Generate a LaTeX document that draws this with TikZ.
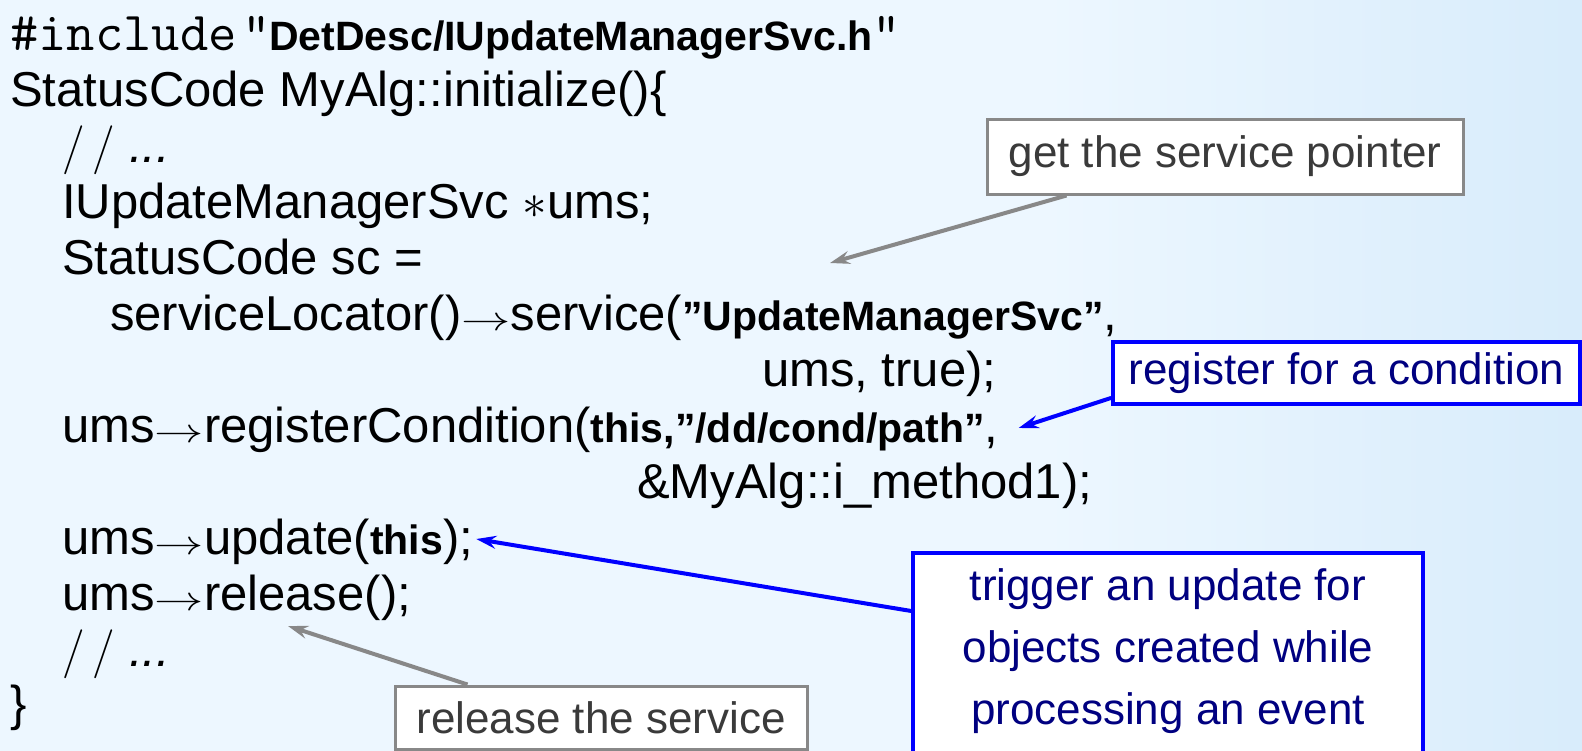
\RequirePackage{fix-cm}
\documentclass[tikz,border=0pt]{standalone}
\usepackage{graphicx}
\usepackage{fontspec}
\setmainfont{Liberation Sans}
\setsansfont{Liberation Sans}
\usetikzlibrary{arrows.meta,calc}
\definecolor{bgl}{RGB}{237,247,255}
\definecolor{bgr}{RGB}{216,236,251}
\definecolor{boxgray}{RGB}{136,136,136}
\definecolor{txtgray}{RGB}{58,58,58}
\definecolor{navyt}{RGB}{0,0,128}
\definecolor{bluel}{RGB}{0,0,255}
\pgfdeclarehorizontalshading{bgsh}{100bp}{color(0bp)=(bgl); color(25bp)=(bgl); color(58bp)=(bgl); color(75bp)=(bgr); color(100bp)=(bgr)}
\newcommand\codefont{\fontsize{49}{55}\selectfont}
\newcommand\bsm[1]{{\fontsize{41}{41}\selectfont\bfseries #1}}
\newcommand\arr{{\fontsize{34}{34}\selectfont\scalebox{1.45}[1]{$\rightarrow$}}}
\newcommand\cmt{{$/\mkern3mu/$}\hspace{14pt}\textit{...}}
\newcommand\qd{{\fontsize{55}{55}\selectfont\ttfamily\char34}}
\newcommand\calfont{\fontsize{44}{62}\selectfont}
\begin{document}
\begin{tikzpicture}[x=1pt,y=1pt,
  code/.style={anchor=base west, inner sep=0pt, font=\codefont},
  graybox/.style={draw=boxgray, line width=3pt, fill=white, text=txtgray, font=\calfont, inner sep=0pt},
  bluebox/.style={draw=bluel, line width=3.5pt, fill=white, text=navyt, font=\calfont, inner sep=0pt},
  grayarrow/.style={draw=boxgray, line width=4pt, -{Stealth[length=20pt,width=13pt,inset=7pt]}},
  bluearrow/.style={draw=bluel, line width=4pt, -{Stealth[length=20pt,width=13pt,inset=7pt]}}]
\useasboundingbox (0,0) rectangle (1582,-750);
\shade[shading=bgsh] (0,0) rectangle (1582,-750);
% code lines
\node[code] (l1) at (10,-50) {{\fontsize{55}{55}\selectfont\texttt{\#include}}\hspace{6pt}\qd\kern-2pt\bsm{DetDesc/IUpdateManagerSvc.h}\qd};
\node[code] (l2) at (10,-106) {StatusCode MyAlg::initialize()\{};
\node[code] (l3) at (62,-162) {\cmt};
\node[code] (l4) at (62,-218) {IUpdateManagerSvc $\ast$ums;};
\node[code] (l5) at (62,-274) {StatusCode sc =};
\node[code] (l6) at (110,-330) {serviceLocator()\arr service(\bsm{”UpdateManagerSvc”},};
\node[code] (l7) at (762,-386) {ums, true);};
\node[code] (l8) at (62,-442) {ums\arr registerCondition(\bsm{this,”/dd/cond/path”},};
\node[code] (l9) at (637,-498) {\&MyAlg::i\_method1);};
\node[code] (l10) at (62,-554) {ums\arr update(\bsm{this});};
\node[code] (l11) at (62,-610) {ums\arr release();};
\node[code] (l12) at (62,-666) {\cmt};
\node[code] (l13) at (10,-720) {\}};
% callouts
\node[graybox, minimum width=476pt, minimum height=75pt] (gbox) at (1225,-156.5) {get the service pointer};
\node[bluebox, minimum width=467pt, minimum height=62pt] (rbox) at (1346.5,-373) {register for a condition};
\node[bluebox, minimum width=510pt, minimum height=219pt, align=center, anchor=north] (tbox) at (1168,-551)
  {\rule{0pt}{48pt}trigger an update for\\objects created while\\processing an event\rule[-110pt]{0pt}{1pt}};
\node[graybox, minimum width=412pt, minimum height=63pt] (relbox) at (601,-717.5) {release the service};
% targets
\coordinate (t1) at (830,-263);
\coordinate (t2) at ($(l8.base east)+(20,14)$);
\coordinate (t3) at ($(l10.base east)+(3,15)$);
\coordinate (t4) at (288,-626);
% arrows
\draw[grayarrow] ([xshift=81pt]gbox.south west) -- (t1);
\draw[bluearrow] ($(rbox.south west)!0.12!(rbox.north west)$) -- (t2);
\draw[bluearrow] ([yshift=-60pt]tbox.north west) -- (t3);
\draw[grayarrow] ([xshift=74pt]relbox.north west) -- (t4);
\end{tikzpicture}
\end{document}
